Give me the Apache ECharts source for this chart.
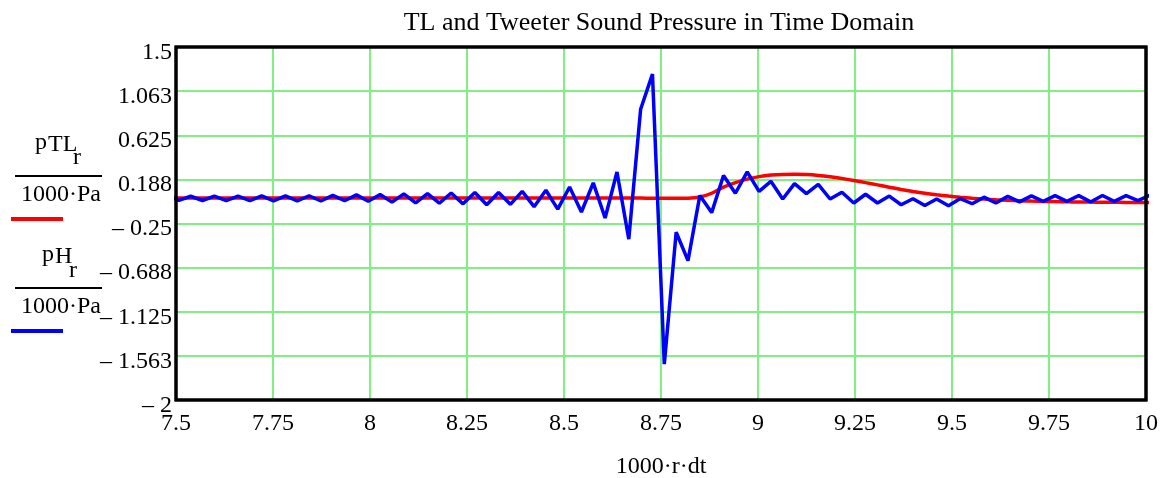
<!DOCTYPE html>
<html>
<head>
<meta charset="utf-8">
<script src="https://cdn.jsdelivr.net/npm/echarts@6/dist/echarts.min.js"></script>
<style>
html,body{margin:0;padding:0;background:#fff;}
#chart{width:1172px;height:478px;}
</style>
</head>
<body>
<div id="chart"></div>
<script>
// time values 1000*r*dt (ms)
const timeMs = [7.4768,7.5073,7.5378,7.5684,7.5989,7.6294,7.6599,7.6904,7.7209,7.7515,
7.7820,7.8125,7.8430,7.8735,7.9041,7.9346,7.9651,7.9956,8.0261,8.0566,
8.0872,8.1177,8.1482,8.1787,8.2092,8.2397,8.2703,8.3008,8.3313,8.3618,
8.3923,8.4229,8.4534,8.4839,8.5144,8.5449,8.5754,8.6060,8.6365,8.6670,
8.6975,8.7280,8.7585,8.7891,8.8196,8.8501,8.8806,8.9111,8.9417,8.9722,
9.0027,9.0332,9.0637,9.0942,9.1248,9.1553,9.1858,9.2163,9.2468,9.2773,
9.3079,9.3384,9.3689,9.3994,9.4299,9.4604,9.4910,9.5215,9.5520,9.5825,
9.6130,9.6436,9.6741,9.7046,9.7351,9.7656,9.7961,9.8267,9.8572,9.8877,
9.9182,9.9487,9.9792,10.0098];

// pTL_r / (1000 Pa)  (red)
const pTL = [0.003,0.003,0.003,0.003,0.003,0.003,0.003,0.003,0.003,0.003,
0.003,0.003,0.003,0.003,0.003,0.003,0.003,0.003,0.003,0.003,
0.003,0.003,0.003,0.003,0.003,0.003,0.003,0.003,0.003,0.003,
0.003,0.003,0.003,0.003,0.003,0.003,0.003,0.003,0.003,0.003,
0.002,0.001,0.000,0.000,0.001,0.012,0.050,0.110,0.155,0.190,
0.215,0.230,0.237,0.238,0.235,0.227,0.214,0.197,0.177,0.155,
0.133,0.110,0.088,0.068,0.050,0.035,0.022,0.010,0.000,-0.008,
-0.015,-0.020,-0.024,-0.028,-0.031,-0.033,-0.035,-0.037,-0.038,-0.039,
-0.040,-0.041,-0.042,-0.042];

// pH_r / (1000 Pa)  (blue)
const pH = [0.022,-0.020,0.020,-0.022,0.022,-0.023,0.022,-0.024,0.023,-0.025,
0.024,-0.026,0.025,-0.027,0.029,-0.024,0.034,-0.030,0.037,-0.038,
0.044,-0.045,0.047,-0.049,0.052,-0.055,0.058,-0.064,0.058,-0.060,
0.069,-0.083,0.080,-0.108,0.112,-0.136,0.153,-0.195,0.261,-0.405,
0.883,1.231,-1.645,-0.337,-0.618,0.027,-0.142,0.226,0.050,0.261,
0.069,0.168,-0.007,0.145,0.046,0.137,-0.007,0.060,-0.047,0.040,
-0.047,0.022,-0.064,-0.004,-0.072,-0.007,-0.074,-0.003,-0.054,0.011,
-0.047,0.019,-0.036,0.024,-0.030,0.026,-0.030,0.026,-0.036,0.028,
-0.030,0.026,-0.024,0.030];

const yTickLabels = ['\u2013 2','\u2013 1.563','\u2013 1.125','\u2013 0.688','\u2013 0.25','0.188','0.625','1.063','1.5'];
const xTickLabels = ['7.5','7.75','8','8.25','8.5','8.75','9','9.25','9.5','9.75','10'];

const titleText = 'TL and Tweeter Sound Pressure in Time Domain';
const xName = '1000\u00B7r\u00B7dt';

const FONT = '"Liberation Serif", "Times New Roman", serif';

const chart = echarts.init(document.getElementById('chart'));

function pairs(xs, ys){ return xs.map((x,i)=>[x, ys[i]]); }

function txt(x, y, s, size){
  return {type:'text', x:x, y:y, z:10, style:{text:s, fontFamily:FONT, fontSize:size||24, fill:'#000', textVerticalAlign:'middle', verticalAlign:'middle'}};
}

const splitStyle = {show:true, showMinLine:false, showMaxLine:false, lineStyle:{color:'#80f080', width:2}};

chart.setOption({
  animation:false,
  backgroundColor:'#fff',
  title:{
    text:titleText, left:654, top:5, textAlign:'center',
    textStyle:{fontFamily:FONT, fontSize:26, fontWeight:'normal', color:'#000'}
  },
  grid:{left:176, right:26, top:47, bottom:78, show:true, borderColor:'#000', borderWidth:3, backgroundColor:'transparent', outerBoundsMode:'none', containLabel:false, z:5},
  xAxis:{
    type:'value', min:7.5, max:10, interval:0.25,
    name:xName, nameLocation:'middle', nameGap:55,
    nameTextStyle:{fontFamily:FONT, fontSize:24, color:'#000'},
    axisLine:{show:false}, axisTick:{show:false},
    axisLabel:{fontFamily:FONT, fontSize:24, color:'#000', margin:12,
      formatter:function(v){ const i=Math.round((v-7.5)/0.25); return xTickLabels[i]; }},
    splitLine:splitStyle
  },
  yAxis:{
    type:'value', min:-2, max:1.5, interval:0.4375,
    axisLine:{show:false}, axisTick:{show:false},
    axisLabel:{fontFamily:FONT, fontSize:24, color:'#000', margin:4,
      formatter:function(v){ const i=Math.round((v+2)/0.4375); return '{a|' + yTickLabels[i] + '}'; },
      rich:{a:{fontFamily:FONT, fontSize:24, color:'#000', padding:[11,0,0,0]}}},
    splitLine:splitStyle
  },
  series:[
    {type:'line', data:pairs(timeMs,pTL), showSymbol:false, smooth:0.3, lineStyle:{color:'#ff0000', width:3.5}, z:2},
    {type:'line', data:pairs(timeMs,pH), showSymbol:false, smooth:false, lineStyle:{color:'#0000ff', width:3.5}, z:3}
  ],
  graphic:[
    {type:'rect', shape:{x:176, y:47, width:970, height:353}, style:{fill:'none', stroke:'#000', lineWidth:3}, z:100},
    txt(35,143,'p'), txt(48,145,'TL'), txt(73,158,'r'),
    {type:'line', shape:{x1:15,y1:176,x2:102,y2:176}, style:{stroke:'#000', lineWidth:2}},
    txt(21,195,'1000\u00B7Pa'),
    {type:'line', shape:{x1:11,y1:219,x2:63,y2:219}, style:{stroke:'#ff0000', lineWidth:4}},
    txt(42,255,'p'), txt(55,257,'H'), txt(69,271,'r'),
    {type:'line', shape:{x1:15,y1:288,x2:102,y2:288}, style:{stroke:'#000', lineWidth:2}},
    txt(21,307,'1000\u00B7Pa'),
    {type:'line', shape:{x1:11,y1:331,x2:63,y2:331}, style:{stroke:'#0000ff', lineWidth:4}}
  ]
});
</script>
</body>
</html>
